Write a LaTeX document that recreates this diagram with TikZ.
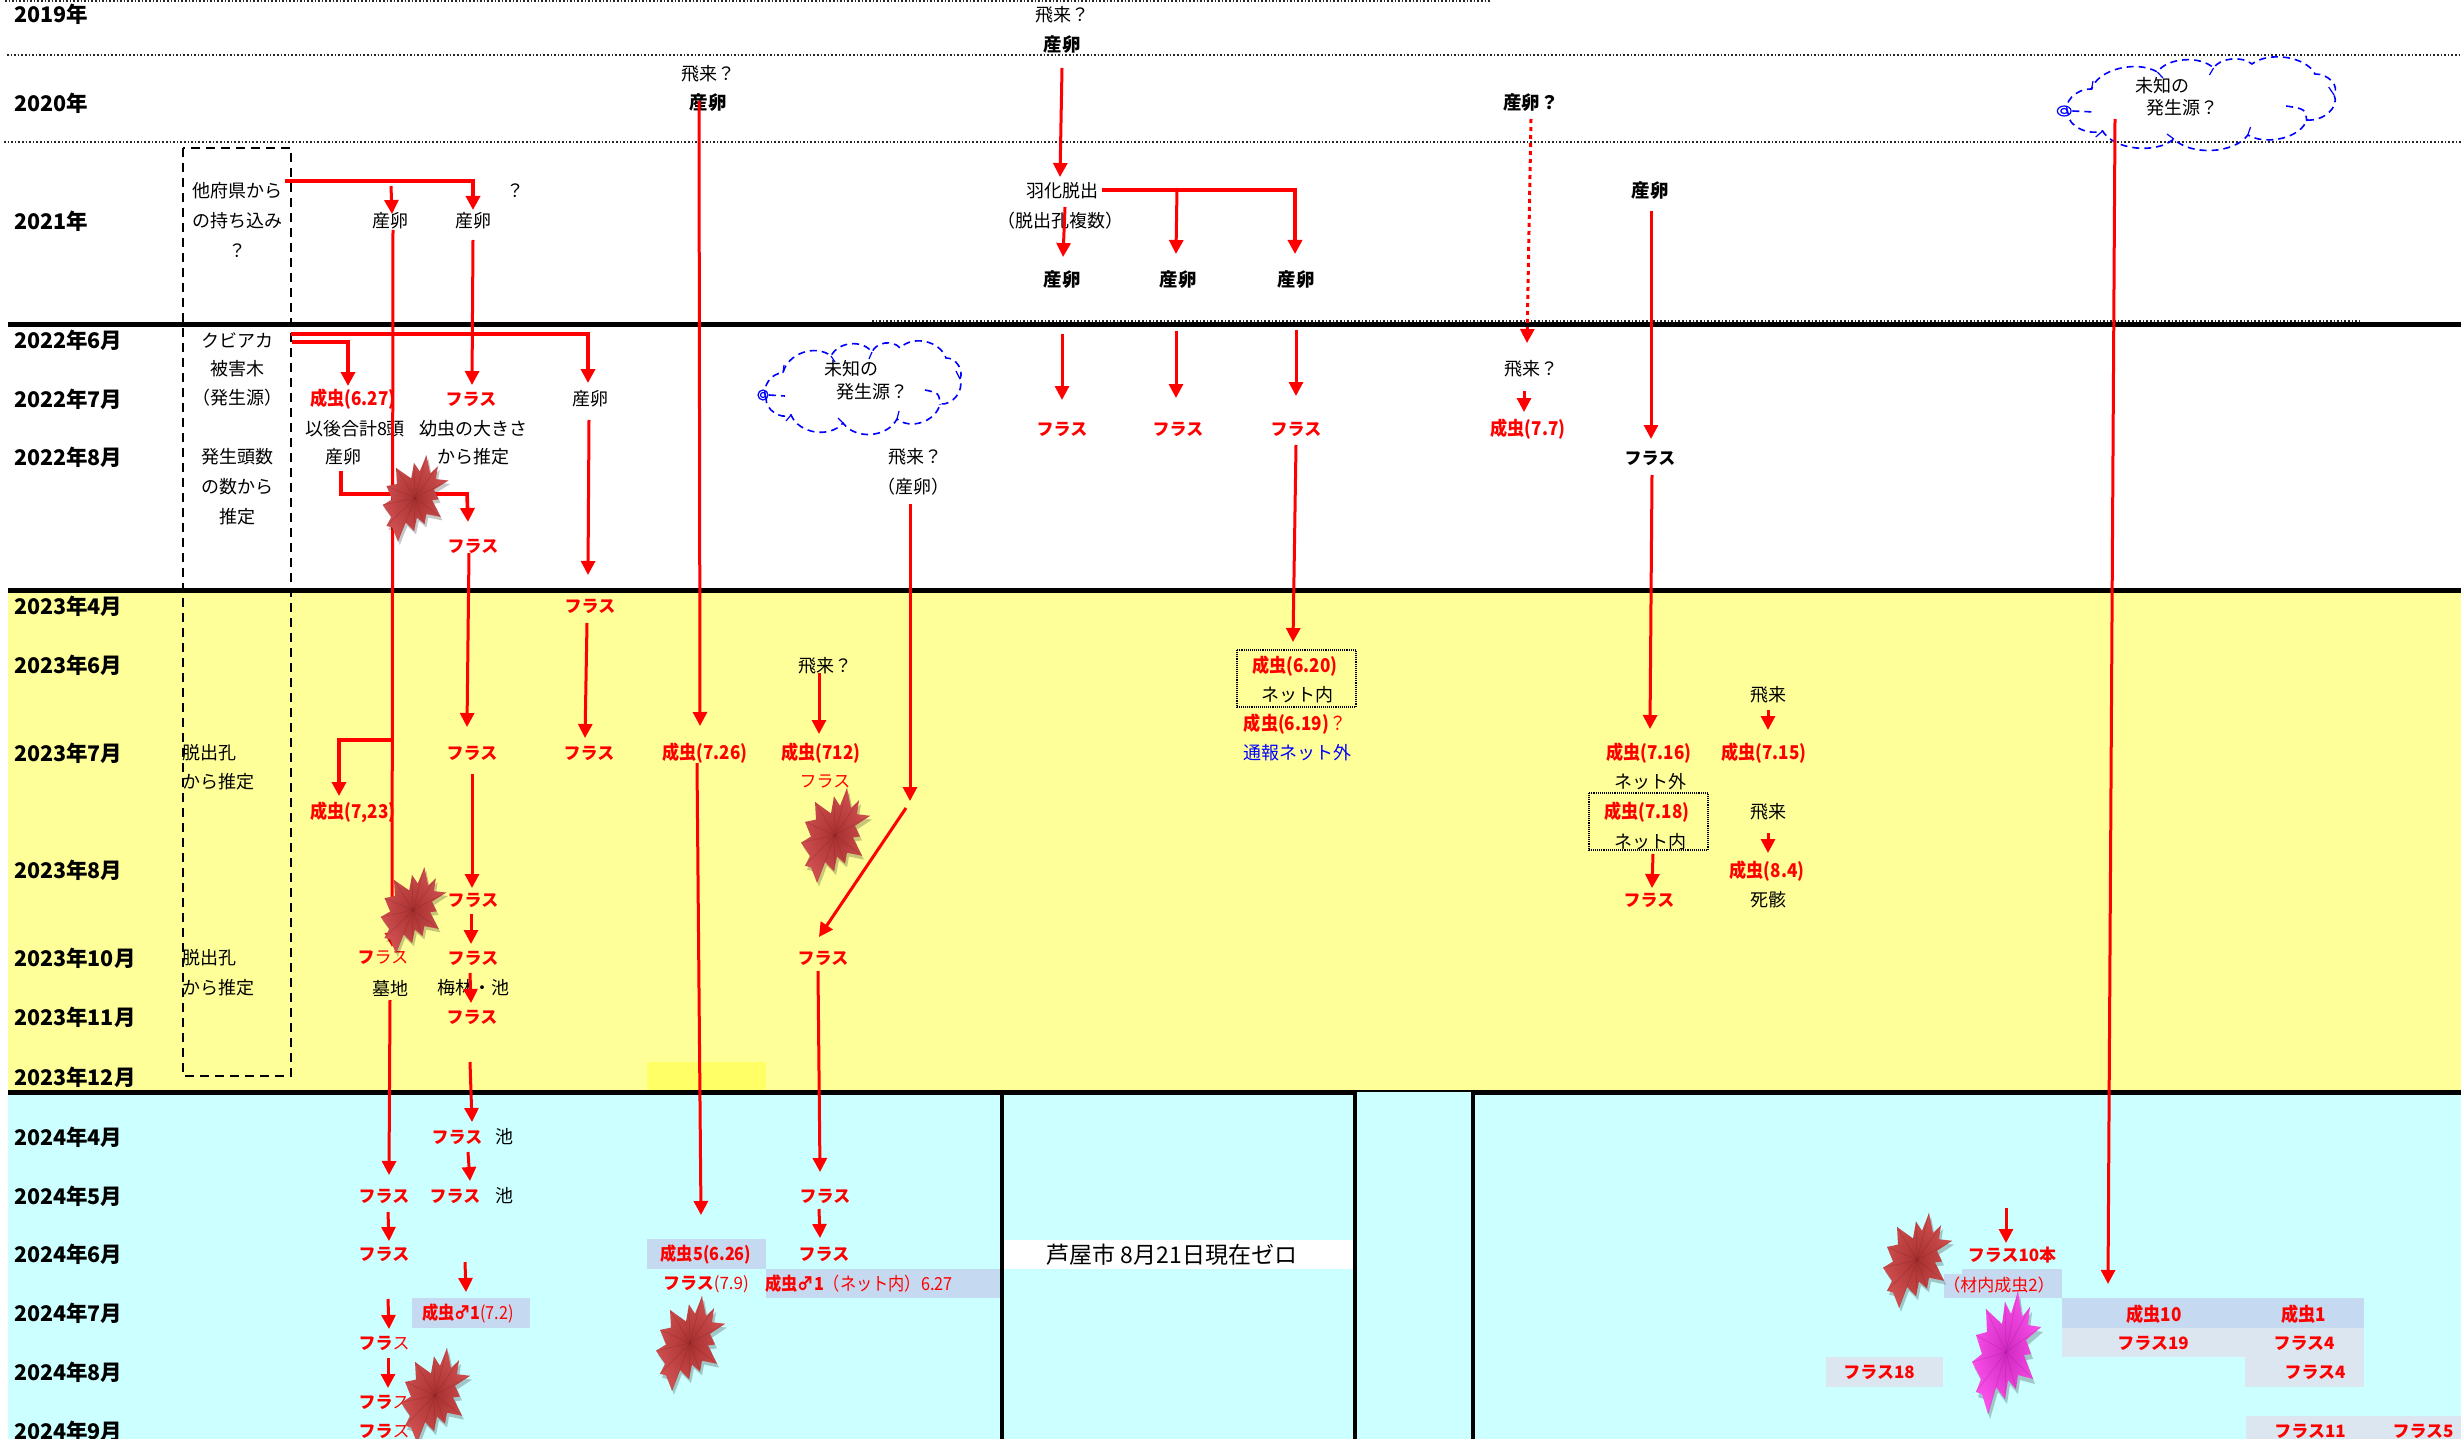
\documentclass[tikz,border=0pt]{standalone}
\usepackage{fontspec}
\usetikzlibrary{arrows.meta,calc}
\newfontfamily\jp{Noto Sans CJK JP}
\newfontfamily\jpn[FakeStretch=0.9]{Noto Sans CJK JP}
\setmainfont{Noto Sans CJK JP}
\definecolor{pyellow}{HTML}{FFFF99}
\definecolor{byellow}{HTML}{FFFF66}
\definecolor{pcyan}{HTML}{CCFFFF}
\definecolor{boxblue}{HTML}{C5D9F1}
\definecolor{boxgrey}{HTML}{DCE6F1}
\definecolor{burstdark}{HTML}{A8302F}
\definecolor{burstlight}{HTML}{CF4F50}
\definecolor{pinkdark}{HTML}{D028C0}
\definecolor{pinklight}{HTML}{F850E8}
\tikzset{
  lab/.style={inner sep=0pt,outer sep=0pt,font=\jp\fontsize{18}{20}\selectfont,text=black},
  yr/.style={lab,anchor=west,font=\jp\bfseries\fontsize{21.5}{22}\selectfont},
  redb/.style={lab,text=red,font=\jpn\bfseries\fontsize{19}{20}\selectfont},
  redn/.style={lab,text=red,font=\jpn\fontsize{18}{20}\selectfont},
  fras/.style={lab,text=red,font=\jp\bfseries\fontsize{17}{20}\selectfont},
  fbk/.style={lab,font=\jp\bfseries\fontsize{17}{20}\selectfont},
  bk/.style={lab,font=\jp\bfseries\fontsize{18.5}{20}\selectfont},
  flow/.style={draw=red,line width=3pt,-{Triangle[length=14pt,width=14pt]}},
  elbow/.style={flow,line width=3.6pt},
  thickline/.style={draw=black,line width=5pt},
  dotline/.style={draw=black!85,line width=1.6pt,dotted},
  dotbox/.style={draw=black,line width=1.1pt,densely dotted},
  dashbox/.style={draw=black,line width=1.3pt,dash pattern=on 9pt off 6pt},
  cloudline/.style={draw=blue,line width=1.6pt,dash pattern=on 7pt off 5pt},
  lobe/.style={bend left=58},
}
\newcommand\burst[6]{%
  \begin{scope}[shift={(#1,#2)},xscale=#3,yscale=#4]
    \def\burstpts{(12,-61) -- (16,-35) -- (24,-45) -- (22,-27) -- (35,-25) -- (20,-12) -- (25,2) -- (18,3) -- (27,27) -- (12,23) -- (10,37) -- (2,28) -- (-1,47) -- (-10,35) -- (-18,62) -- (-24,42) -- (-30,40) -- (-25,27) -- (-34,10) -- (-24,2) -- (-30,-17) -- (-19,-20) -- (-20,-43) -- (-4,-28) -- (-1,-50) -- (5,-38) -- cycle}
    \fill[black,opacity=.22,shift={(2,5)}] \burstpts;
    \shade[inner color=#5,outer color=#6] \burstpts;
    \foreach \px/\py in {12/-61,24/-45,35/-25,27/27,10/37,-1/47,-18/62,-30/40,-34/10,-30/-17,-20/-43,-1/-50}
      \draw[#5!75!black,line width=.7pt,opacity=.3] (0,0) -- (\px,\py);
  \end{scope}}
\newcommand\cloudshape[3]{%
  \begin{scope}[shift={(#1,#2)},xscale=#3]
    \draw[cloudline] (9,55) to[lobe] (26,30) to[lobe] (74,13) to[lobe] (115,9) to[lobe] (143,5) to[lobe] (189,15) to[lobe] (203,36) to[lobe] (183,61) to[lobe] (140,76) to[lobe] (86,80) to[lobe] (34,72) to[lobe] (9,55);
    \draw[cloudline] (168,47) .. controls (182,50) .. (183,62);
    \draw[blue,line width=1.2pt] (26,30) -- (27,22);
    \draw[blue,line width=1.2pt] (74,13) -- (78,19);
    \draw[blue,line width=1.2pt] (115,9) -- (112,16);
    \draw[blue,line width=1.2pt] (203,36) -- (199,28);
    \draw[blue,line width=1.2pt] (140,76) -- (142,68);
    \draw[blue,line width=1.2pt] (86,80) -- (81,75);
    \draw[blue,line width=1.2pt] (34,72) -- (29,78);
    \draw[blue,line width=1.2pt] (6,52) circle[radius=5pt];
    \draw[blue,line width=1.2pt] (6,52) circle[radius=2.5pt];
    \draw[cloudline] (12,52) -- (28,53);
  \end{scope}}
\begin{document}
\begin{tikzpicture}[x=1pt,y=-1pt]
\useasboundingbox (0,0) rectangle (2461,1439);
% bands
\fill[white] (0,0) rectangle (2461,1439);
\fill[pyellow] (8,590) rectangle (2461,1092);
\fill[pcyan] (8,1092) rectangle (2461,1439);
\fill[byellow] (647,1062) rectangle (766,1090);
\fill[white] (1002,1240) rectangle (1355,1269);
\fill[boxblue] (647,1239) rectangle (766,1269);
\fill[boxblue] (766,1269) rectangle (1000,1298);
\fill[boxblue] (412,1298) rectangle (530,1328);
\fill[boxblue] (1962,1269) rectangle (2062,1298);
\fill[boxblue] (1944,1274) rectangle (1962,1298);
\fill[boxblue] (2062,1298) rectangle (2364,1328);
\fill[boxgrey] (2062,1328) rectangle (2364,1357);
\fill[boxgrey] (2245,1357) rectangle (2364,1387);
\fill[boxgrey] (1826,1357) rectangle (1943,1387);
\fill[boxgrey] (2246,1416) rectangle (2461,1439);
% rules
\draw[dotline] (5,1) -- (1490,1);
\draw[dotline] (7,55) -- (2461,55);
\draw[dotline] (4,142) -- (2461,142);
\draw[dotline] (872,321) -- (2361,321);
\draw[thickline] (8,325) -- (2461,325);
\draw[thickline] (8,590) -- (2461,590);
\draw[thickline] (8,1092) -- (1355,1092);
\draw[draw=black,line width=2pt] (1355,1091) -- (1472,1091);
\draw[thickline] (1472,1092) -- (2461,1092);
\draw[draw=black,line width=4pt] (1002,1092) -- (1002,1439);
\draw[draw=black,line width=4pt] (1355,1092) -- (1355,1439);
\draw[draw=black,line width=4pt] (1473,1092) -- (1473,1439);
\draw[dashbox] (183,148) rectangle (291,1076);
\draw[dotbox] (1237,650) rectangle (1356,707);
\draw[dotbox] (1589,793) rectangle (1708,850);
% year labels
\node[yr] (y2019) at (14,14) {2019年};
\node[yr] (y2020) at (14,103) {2020年};
\node[yr] (y2021) at (14,221) {2021年};
\node[yr] (y2206) at (14,340) {2022年6月};
\node[yr] (y2207) at (14,399) {2022年7月};
\node[yr] (y2208) at (14,457) {2022年8月};
\node[yr] (y2304) at (14,606) {2023年4月};
\node[yr] (y2306) at (14,665) {2023年6月};
\node[yr] (y2307) at (14,753) {2023年7月};
\node[yr] (y2308) at (14,870) {2023年8月};
\node[yr] (y2310) at (14,958) {2023年10月};
\node[yr] (y2311) at (14,1017) {2023年11月};
\node[yr] (y2312) at (14,1077) {2023年12月};
\node[yr] (y2404) at (14,1137) {2024年4月};
\node[yr] (y2405) at (14,1196) {2024年5月};
\node[yr] (y2406) at (14,1254) {2024年6月};
\node[yr] (y2407) at (14,1313) {2024年7月};
\node[yr] (y2408) at (14,1372) {2024年8月};
\node[yr] (y2409) at (14,1431) {2024年9月};
% dashed column
\node[lab] (c1) at (237,191) {他府県から};
\node[lab] (c2) at (237,221) {の持ち込み};
\node[lab] (c3) at (237,251) {？};
\node[lab] (kubi) at (237,340) {クビアカ};
\node[lab] (c5) at (237,369) {被害木};
\node[lab] (c6) at (237,398) {（発生源）};
\node[lab] (c7) at (237,457) {発生頭数};
\node[lab] (c8) at (237,487) {の数から};
\node[lab] (c9) at (237,517) {推定};
\node[lab,anchor=west] (d1) at (182,753) {脱出孔};
\node[lab,anchor=west] (d2) at (182,782) {から推定};
\node[lab,anchor=west] (d3) at (182,958) {脱出孔};
\node[lab,anchor=west] (d4) at (182,988) {から推定};
% column A/B
\node[lab] (e1) at (390,221) {産卵};
\node[lab] (e2) at (473,221) {産卵};
\node[lab] (q1) at (515,191) {？};
\node[redb] (a627) at (353,399) {成虫(6.27)};
\node[fras] (f399) at (471,399) {フラス};
\node[lab] (e3) at (590,399) {産卵};
\node[lab] (i1) at (355,429) {以後合計8頭};
\node[lab] (i2) at (473,429) {幼虫の大きさ};
\node[lab] (e4) at (343,457) {産卵};
\node[lab] (i3) at (473,457) {から推定};
\node[fras] (f546) at (473,546) {フラス};
\node[fras] (f606) at (590,606) {フラス};
\node[fras] (f753a) at (472,753) {フラス};
\node[fras] (f753b) at (589,753) {フラス};
\node[redb] (a726) at (705,753) {成虫(7.26)};
\node[redb] (a723) at (353,812) {成虫(7,23)};
\node[fras] (f900) at (473,900) {フラス};
\node[fras] (f958a) at (383,958) {フ\mdseries ラス};
\node[fras] (f958b) at (473,958) {フラス};
\node[lab] (bochi) at (390,988) {墓地};
\node[lab] (ume) at (473,988) {梅林・池};
\node[fras] (f1017) at (472,1017) {フラス};
\node[fras] (f1137) at (457,1137) {フラス};
\node[lab] (p1) at (504,1137) {池};
\node[fras] (f1196a) at (384,1196) {フラス};
\node[fras] (f1196b) at (455,1196) {フラス};
\node[lab] (p2) at (504,1196) {池};
\node[fras] (f1254a) at (384,1254) {フラス};
\node[redn] (a72) at (468,1313) {\bfseries 成虫♂1\mdseries (7.2)};
\node[fras] (f1343) at (384,1343) {フラ\mdseries ス};
\node[fras] (f1402) at (384,1402) {フラ\mdseries ス};
\node[fras] (f1431) at (384,1431) {フラ\mdseries ス};
% column C
\node[lab] (hi74) at (708,74) {飛来？};
\node[bk] (e5) at (708,103) {産卵};
\node[redn] (a5) at (706,1254) {\bfseries 成虫5(6.26)};
\node[lab,text=red,font=\jp\fontsize{17}{20}\selectfont] (f79) at (706,1284) {\bfseries フラス\mdseries (7.9)};
% column D
\node[lab] (gen1a) at (851,369) {未知の};
\node[lab] (gen1b) at (872,392) {発生源？};
\node[lab] (hi457) at (915,457) {飛来？};
\node[lab] (sr487) at (913,487) {（産卵）};
\node[lab] (hi666) at (825,666) {飛来？};
\node[redb] (a712) at (821,753) {成虫(712)};
\node[lab,text=red,font=\jp\fontsize{17}{20}\selectfont] (f782) at (825,782) {フラス};
\node[fras] (f958c) at (823,958) {フラス};
\node[fras] (f1196c) at (825,1196) {フラス};
\node[fras] (f1254c) at (824,1254) {フラス};
\node[redn] (a627b) at (859,1284) {\bfseries 成虫♂1\mdseries（ネット内）6.27};
% column E
\node[lab] (hi15) at (1062,15) {飛来？};
\node[bk] (e6) at (1062,45) {産卵};
\node[lab] (uk) at (1062,191) {羽化脱出};
\node[lab] (dk) at (1060,221) {（脱出孔複数）};
\node[bk] (e7) at (1062,280) {産卵};
\node[bk] (e8) at (1178,280) {産卵};
\node[bk] (e9) at (1296,280) {産卵};
\node[fras] (f429a) at (1062,429) {フラス};
\node[fras] (f429b) at (1178,429) {フラス};
\node[fras] (f429c) at (1296,429) {フラス};
\node[redb] (a620) at (1295,666) {成虫(6.20)};
\node[lab] (n695) at (1297,695) {ネット内};
\node[lab,text=red,font=\jpn\fontsize{19}{20}\selectfont] (a619) at (1295,724) {\bfseries 成虫(6.19)\mdseries ？};
\node[lab,text=blue] (tsuho) at (1297,753) {通報ネット外};
\node[lab,font=\jp\fontsize{23}{23}\selectfont] (ashiya) at (1172,1255) {芦屋市 8月21日現在ゼロ};
% column F
\node[bk] (e10) at (1531,103) {産卵？};
\node[lab] (hi369) at (1531,369) {飛来？};
\node[redb] (a77) at (1528,429) {成虫(7.7)};
\node[bk] (e11) at (1650,191) {産卵};
\node[fbk] (fk458) at (1650,458) {フラス};
\node[redb] (a716) at (1649,753) {成虫(7.16)};
\node[redb] (a715) at (1764,753) {成虫(7.15)};
\node[lab] (hi695) at (1768,695) {飛来};
\node[lab] (n782) at (1650,782) {ネット外};
\node[redb] (a718) at (1647,812) {成虫(7.18)};
\node[lab] (n842) at (1650,842) {ネット内};
\node[lab] (hi812) at (1768,812) {飛来};
\node[redb] (a84) at (1767,871) {成虫(8.4)};
\node[fras] (f900e) at (1649,900) {フラス};
\node[lab] (shigai) at (1768,900) {死骸};
% right
\node[lab] (gen2a) at (2162,86) {未知の};
\node[lab] (gen2b) at (2182,108) {発生源？};
\node[fras] (f10) at (2012,1255) {フラス10本};
\node[lab,text=red,font=\jp\fontsize{17}{20}\selectfont] (zai) at (1999,1285) {（材内成虫2）};
\node[redb] (a10) at (2154,1314) {成虫10};
\node[redb] (a1) at (2304,1314) {成虫1};
\node[fras] (f19) at (2153,1343) {フラス19};
\node[fras] (f4a) at (2304,1343) {フラス4};
\node[fras] (f4b) at (2315,1372) {フラス4};
\node[fras] (f18) at (1879,1372) {フラス18};
\node[fras] (f11) at (2310,1431) {フラス11};
\node[fras] (f5) at (2423,1431) {フラス5};
% clouds
\cloudshape{757}{343}{1}
\cloudshape{2056}{59}{1.37}
% free ends of connectors
\coordinate (bS) at (391,186);
\coordinate (brA) at (392,740);
\coordinate (h1) at (467,494);
\coordinate (rS) at (465,1262);
\coordinate (vE) at (910,801);
\coordinate (wS) at (906,808);
\coordinate (abS) at (1177,188);
\coordinate (apS) at (2006,1208);
% connectors
\draw[elbow] ([shift={(48,-10)}]c1.center) -| ([shift={(0,-11)}]e2.center);
\draw[flow] (bS) -- ([shift={(2,-7)}]e1.center);
\draw[flow] ([shift={(3,9)}]e1.center) -- ([shift={(9,-11)}]f958a.center);
\draw[elbow] (brA) -| ([shift={(-14,-16)}]a723.center);
\draw[flow] ([shift={(0,12)}]bochi.center) -- ([shift={(5,-21)}]f1196a.center);
\draw[flow] ([shift={(0,19)}]e2.center) -- ([shift={(1,-14)}]f399.center);
\draw[elbow] ([shift={(54,-6)}]kubi.center) -| ([shift={(-2,-16)}]e3.center);
\draw[elbow] ([shift={(55,2)}]kubi.center) -| ([shift={(-5,-13)}]a627.center);
\draw[flow] ([shift={(-1,21)}]e3.center) -- ([shift={(-2,-31)}]f606.center);
\draw[elbow] ([shift={(-2,14)}]e4.center) |- (h1) -- ([shift={(-5,-24)}]f546.center);
\draw[flow] ([shift={(-4,7)}]f546.center) -- ([shift={(-5,-26)}]f753a.center);
\draw[flow] ([shift={(-9,-2)}]e5.center) -- ([shift={(-5,-27)}]a726.center);
\draw[flow] ([shift={(-8,10)}]a726.center) -- ([shift={(-5,-39)}]a5.center);
\draw[flow] ([shift={(-3,17)}]f606.center) -- ([shift={(-4,-15)}]f753b.center);
\draw[flow] ([shift={(0,21)}]f753a.center) -- ([shift={(-1,-12)}]f900.center);
\draw[flow] ([shift={(-2,14)}]f900.center) -- ([shift={(-2,-14)}]f958b.center);
\draw[flow] ([shift={(-3,15)}]f958b.center) -- ([shift={(-1,-14)}]f1017.center);
\draw[flow] ([shift={(-2,45)}]f1017.center) -- ([shift={(15,-15)}]f1137.center);
\draw[flow] ([shift={(11,15)}]f1137.center) -- ([shift={(15,-15)}]f1196b.center);
\draw[flow] ([shift={(4,16)}]f1196a.center) -- ([shift={(5,-13)}]f1254a.center);
\draw[flow] (rS) -- ([shift={(-2,-21)}]a72.center);
\draw[flow] ([shift={(4,45)}]f1254a.center) -- ([shift={(5,-14)}]f1343.center);
\draw[flow] ([shift={(4,15)}]f1343.center) -- ([shift={(4,-14)}]f1402.center);
\draw[flow] ([shift={(-6,7)}]hi666.center) -- ([shift={(-2,-19)}]a712.center);
\draw[flow] ([shift={(-3,17)}]sr487.center) -- (vE);
\draw[flow] (wS) -- ([shift={(-4,-21)}]f958c.center);
\draw[flow] ([shift={(-5,13)}]f958c.center) -- ([shift={(-5,-24)}]f1196c.center);
\draw[flow] ([shift={(-6,13)}]f1196c.center) -- ([shift={(-4,-16)}]f1254c.center);
\draw[flow] ([shift={(0,23)}]e6.center) -- ([shift={(-2,-14)}]uk.center);
\draw[elbow] ([shift={(40,-1)}]uk.center) -| ([shift={(-1,-26)}]e9.center);
\draw[flow] (abS) -- ([shift={(-2,-26)}]e8.center);
\draw[flow] ([shift={(5,-14)}]dk.center) -- ([shift={(1,-23)}]e7.center);
\draw[flow] ([shift={(0,54)}]e7.center) -- ([shift={(0,-29)}]f429a.center);
\draw[flow] ([shift={(-2,51)}]e8.center) -- ([shift={(-2,-31)}]f429b.center);
\draw[flow] ([shift={(0,50)}]e9.center) -- ([shift={(0,-33)}]f429c.center);
\draw[flow] ([shift={(0,16)}]f429c.center) -- ([shift={(-2,-24)}]a620.center);
\draw[flow,dash pattern=on 4pt off 4pt] ([shift={(0,16)}]e10.center) -- ([shift={(-4,-26)}]hi369.center);
\draw[flow] ([shift={(-7,22)}]hi369.center) -- ([shift={(-4,-17)}]a77.center);
\draw[flow] ([shift={(1,20)}]e11.center) -- ([shift={(1,-19)}]fk458.center);
\draw[flow] ([shift={(2,17)}]fk458.center) -- ([shift={(1,-24)}]a716.center);
\draw[flow] ([shift={(-67,11)}]gen2b.center) -- ([shift={(-46,-30)}]a10.center);
\draw[flow] ([shift={(0,15)}]hi695.center) -- ([shift={(4,-23)}]a715.center);
\draw[flow] ([shift={(0,21)}]hi812.center) -- ([shift={(1,-18)}]a84.center);
\draw[flow] ([shift={(3,12)}]n842.center) -- ([shift={(3,-12)}]f900e.center);
\draw[flow] (apS) -- ([shift={(-6,-12)}]f10.center);
% bursts
\burst{415}{498}{.95}{.7}{burstdark}{burstlight}
\burst{413}{910}{.95}{.7}{burstdark}{burstlight}
\burst{835}{835}{1}{.77}{burstdark}{burstlight}
\burst{690}{1343}{1}{.77}{burstdark}{burstlight}
\burst{435}{1395}{1}{.77}{burstdark}{burstlight}
\burst{1917}{1260}{1}{.77}{burstdark}{burstlight}
\burst{2006}{1352}{1}{1}{pinkdark}{pinklight}
\end{tikzpicture}
\end{document}
